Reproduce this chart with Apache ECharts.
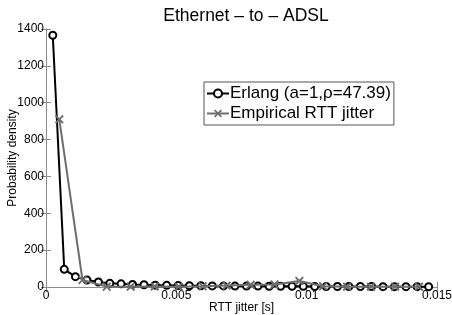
<!DOCTYPE html>
<html><head><meta charset="utf-8">
<script src="https://cdn.jsdelivr.net/npm/echarts@6/dist/echarts.min.js"></script>
<style>html,body{margin:0;padding:0;background:#fff}#c{width:452px;height:315px}</style>
</head><body><div id="c"></div>
<script>
const titleText = "Ethernet \u2013 to \u2013 ADSL";
const xLabel = "RTT jitter [s]";
const yLabel = "Probability density";
const erlangName = "Erlang (a=1,\u03C1=47.39)";
const empName = "Empirical RTT jitter";
const erlangX = [0.00026,0.00070,0.00113,0.00157,0.00201,0.00245,0.00288,0.00332,0.00376,0.00419,0.00463,0.00507,0.00550,0.00594,0.00638,0.00681,0.00725,0.00769,0.00813,0.00856,0.00900,0.00944,0.00987,0.01031,0.01075,0.01118,0.01162,0.01206,0.01249,0.01293,0.01337,0.01381,0.01424,0.01468];
const erlangY = [1366,96,56,38,27,20,17,14,12,10,9,8,7,7,6,6,5,5,5,4,4,4,4,3,3,3,3,3,3,2,2,2,2,2];
const empX = [0.00051,0.00140,0.00233,0.00325,0.00417,0.00509,0.00601,0.00693,0.00785,0.00877,0.00972,0.01063,0.01155,0.01247,0.01339,0.01431];
const empY = [910,38,2,2,3,2,4,8,12,14,33,4,2,2,2,2];
const xTicks = [0,0.005,0.01,0.015];

const xPath = 'path://M0,1.5L1.5,0L5,3.5L8.5,0L10,1.5L6.5,5L10,8.5L8.5,10L5,6.5L1.5,10L0,8.5L3.5,5Z';
const font = 'Liberation Sans, Arial, Helvetica, sans-serif';
const chart = echarts.init(document.getElementById('c'), null, {renderer:'canvas'});
const axisCommon = {
  axisLine:{show:true,lineStyle:{color:'#8c8c8c',width:1}},
  axisTick:{show:true,inside:true,length:5,lineStyle:{color:'#8c8c8c'}},
  splitLine:{show:false}
};
chart.setOption({
  animation:false,
  backgroundColor:'#fff',
  title:{text:titleText,left:241,top:2,textAlign:'center',textStyle:{fontFamily:font,fontSize:17.5,fontWeight:'normal',color:'#000'}},
  legend:{
    left:204, top:82, orient:'vertical',
    borderColor:'#555', borderWidth:1, padding:[3,3,3,2], itemGap:3,
    itemWidth:22, itemHeight:10,
    textStyle:{fontFamily:font,fontSize:17,color:'#000',padding:[0,0,0,-4]},
    data:[erlangName, empName]
  },
  grid:{left:46,right:15,top:29,bottom:28,outerBoundsMode:'none',containLabel:false},
  xAxis:[
    Object.assign({type:'value',min:0,max:0.015,interval:0.005,position:'bottom',
      name:xLabel,nameLocation:'middle',nameGap:15,nameMoveOverlap:false,
      nameTextStyle:{fontFamily:font,fontSize:12,color:'#000'},
      axisLabel:{fontFamily:font,fontSize:12,color:'#000',margin:3,
        formatter:v=>{const t=xTicks.find(s=>Math.abs(s-v)<1e-9);return t===undefined?'':String(t);}}},axisCommon),
    Object.assign({type:'value',min:0,max:0.015,interval:0.005,position:'top',axisLabel:{show:false}},axisCommon)
  ],
  yAxis:[
    Object.assign({type:'value',min:0,max:1400,interval:200,position:'left',
      name:yLabel,nameLocation:'middle',nameGap:27,nameMoveOverlap:false,
      nameTextStyle:{fontFamily:font,fontSize:12,color:'#000'},
      axisLabel:{fontFamily:font,fontSize:12,color:'#000',margin:2,formatter:v=>String(v)}},axisCommon),
    Object.assign({type:'value',min:0,max:1400,interval:200,position:'right',axisLabel:{show:false}},axisCommon)
  ],
  series:[
    {name:erlangName,type:'line',data:erlangX.map((x,i)=>[x,erlangY[i]]),
      symbol:'circle',symbolSize:7,showAllSymbol:true,z:3,
      lineStyle:{color:'#000',width:2},
      itemStyle:{color:'#fff',borderColor:'#000',borderWidth:2}},
    {name:empName,type:'line',data:empX.map((x,i)=>[x,empY[i]]),
      symbol:xPath,symbolSize:9,showAllSymbol:true,z:4,
      lineStyle:{color:'#6e6e6e',width:2},
      itemStyle:{color:'#6e6e6e'}}
  ]
});
</script></body></html>
